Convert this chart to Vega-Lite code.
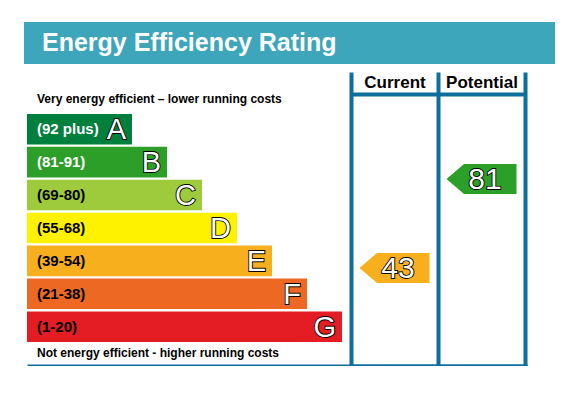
{
  "$schema": "https://vega.github.io/schema/vega-lite/v6.json",
  "padding": {"left": 24, "top": 22, "right": 0, "bottom": 0},
  "config": {
    "view": {"stroke": null},
    "font": "Liberation Sans"
  },
  "spacing": 8,
  "vconcat": [
    {
      "width": 531,
      "height": 42,
      "view": {"fill": "#3ea6ba", "stroke": null},
      "data": {"values": [{"title": "Energy Efficiency Rating"}]},
      "mark": {"type": "text", "align": "left", "baseline": "alphabetic", "dx": 18, "dy": 8, "fontSize": 25, "fontWeight": "bold", "color": "white"},
      "encoding": {
        "text": {"field": "title"},
        "x": {"datum": 0, "type": "quantitative", "scale": {"domain": [0, 1], "nice": false}, "axis": null}
      }
    },
    {
      "spacing": 0,
      "hconcat": [
        {
          "width": 327,
          "height": 294,
          "layer": [
            {
              "data": {"name": "bands", "values": [
                {"band": "A", "range": "(92 plus)", "rank": 1},
                {"band": "B", "range": "(81-91)", "rank": 2},
                {"band": "C", "range": "(69-80)", "rank": 3},
                {"band": "D", "range": "(55-68)", "rank": 4},
                {"band": "E", "range": "(39-54)", "rank": 5},
                {"band": "F", "range": "(21-38)", "rank": 6},
                {"band": "G", "range": "(1-20)", "rank": 7}
              ]},
              "layer": [
                {
                  "mark": {"type": "bar"},
                  "encoding": {
                    "y": {"field": "band", "type": "nominal", "scale": {"domain": ["A", "B", "C", "D", "E", "F", "G"], "paddingInner": 0.072, "paddingOuter": 1.083, "align": 0.636, "round": false}, "axis": null},
                    "x": {"field": "rank", "type": "quantitative", "scale": {"domain": [-2.0857, 7.2571], "nice": false, "zero": false}, "axis": {"orient": "bottom", "domain": true, "domainColor": "#0e6f9d", "domainWidth": 4, "domainDash": [0, 3, 1000], "labels": false, "ticks": false, "grid": false, "title": null}},
                    "x2": {"datum": -2},
                    "color": {"field": "band", "type": "nominal", "scale": {"domain": ["A", "B", "C", "D", "E", "F", "G"], "range": ["#007f3d", "#2c9f29", "#9dcb3c", "#fff200", "#f7af1d", "#ed6823", "#e31d23"]}, "legend": null}
                  }
                },
                {
                  "mark": {"type": "text", "align": "left", "baseline": "middle", "dx": 10, "fontSize": 15, "fontWeight": "bold"},
                  "encoding": {
                    "y": {"field": "band", "type": "nominal", "axis": null},
                    "x": {"datum": -2, "type": "quantitative", "axis": {"orient": "bottom", "domain": true, "domainColor": "#0e6f9d", "domainWidth": 4, "domainDash": [0, 3, 1000], "labels": false, "ticks": false, "grid": false, "title": null}},
                    "text": {"field": "range"},
                    "color": {"condition": {"test": "datum.rank <= 2", "value": "white"}, "value": "black"}
                  }
                },
                {
                  "mark": {"type": "text", "align": "right", "baseline": "middle", "dx": -6, "dy": 1, "fontSize": 29, "fill": "black", "stroke": "black", "strokeWidth": 1.8},
                  "encoding": {
                    "y": {"field": "band", "type": "nominal", "axis": null},
                    "x": {"field": "rank", "type": "quantitative", "axis": {"orient": "bottom", "domain": true, "domainColor": "#0e6f9d", "domainWidth": 4, "domainDash": [0, 3, 1000], "labels": false, "ticks": false, "grid": false, "title": null}},
                    "text": {"field": "band"}
                  }
                },
                {
                  "mark": {"type": "text", "align": "right", "baseline": "middle", "dx": -6, "dy": 1, "fontSize": 29, "fill": "white"},
                  "encoding": {
                    "y": {"field": "band", "type": "nominal", "axis": null},
                    "x": {"field": "rank", "type": "quantitative", "axis": {"orient": "bottom", "domain": true, "domainColor": "#0e6f9d", "domainWidth": 4, "domainDash": [0, 3, 1000], "labels": false, "ticks": false, "grid": false, "title": null}},
                    "text": {"field": "band"}
                  }
                }
              ]
            },
            {
              "data": {"values": [{"note": "Very energy efficient – lower running costs", "band": "A"}]},
              "mark": {"type": "text", "align": "left", "baseline": "alphabetic", "dx": 10, "dy": -10.5, "fontSize": 12, "fontWeight": "bold", "color": "black"},
              "encoding": {
                "y": {"field": "band", "type": "nominal", "bandPosition": 0, "axis": null},
                "x": {"datum": -2, "type": "quantitative", "axis": {"orient": "bottom", "domain": true, "domainColor": "#0e6f9d", "domainWidth": 4, "domainDash": [0, 3, 1000], "labels": false, "ticks": false, "grid": false, "title": null}},
                "text": {"field": "note"}
              }
            },
            {
              "data": {"values": [{"note": "Not energy efficient - higher running costs", "band": "G"}]},
              "mark": {"type": "text", "align": "left", "baseline": "alphabetic", "dx": 10, "dy": 14.5, "fontSize": 12, "fontWeight": "bold", "color": "black"},
              "encoding": {
                "y": {"field": "band", "type": "nominal", "bandPosition": 1, "axis": null},
                "x": {"datum": -2, "type": "quantitative", "axis": {"orient": "bottom", "domain": true, "domainColor": "#0e6f9d", "domainWidth": 4, "domainDash": [0, 3, 1000], "labels": false, "ticks": false, "grid": false, "title": null}},
                "text": {"field": "note"}
              }
            }
          ]
        },
        {
          "width": 174,
          "height": 294,
          "data": {"values": [
            {"column": "Current", "score": 43, "band": "E"},
            {"column": "Potential", "score": 81, "band": "B"}
          ]},
          "resolve": {"axis": {"x": "independent"}},
          "layer": [
            {
              "mark": {"type": "point", "shape": "M-1,0L-0.5,-0.43L1,-0.43L1,0.43L-0.5,0.43Z", "filled": true, "size": 4900, "opacity": 1, "strokeWidth": 0},
              "encoding": {
                "x": {"field": "column", "type": "nominal", "scale": {"type": "band", "domain": ["Current", "Potential"], "paddingInner": 0, "paddingOuter": 0}, "axis": {"orient": "top", "offset": -22, "domain": true, "domainColor": "#0e6f9d", "domainWidth": 4, "ticks": false, "labels": true, "labelFontSize": 17, "labelFontWeight": "bold", "labelColor": "black", "labelAngle": 0, "labelBaseline": "alphabetic", "labelPadding": 7, "grid": true, "gridColor": "#0e6f9d", "gridWidth": 4, "gridOpacity": 1, "tickBand": "extent", "title": null}},
                "y": {"field": "score", "type": "quantitative", "scale": {"domain": [1.16, 126.69], "nice": false, "zero": false}, "axis": null},
                "color": {"field": "band", "type": "nominal", "scale": {"domain": ["A", "B", "C", "D", "E", "F", "G"], "range": ["#007f3d", "#2c9f29", "#9dcb3c", "#fff200", "#f7af1d", "#ed6823", "#e31d23"]}, "legend": null}
              }
            },
            {
              "mark": {"type": "text", "baseline": "middle", "dx": 3.5, "dy": 1, "fontSize": 30, "fill": "black", "stroke": "black", "strokeWidth": 1.8},
              "encoding": {
                "x": {"field": "column", "type": "nominal", "axis": {"orient": "bottom", "domain": true, "domainColor": "#0e6f9d", "domainWidth": 4, "domainCap": "square", "ticks": false, "labels": false, "grid": false, "title": null}},
                "y": {"field": "score", "type": "quantitative", "axis": null},
                "text": {"field": "score"}
              }
            },
            {
              "mark": {"type": "text", "baseline": "middle", "dx": 3.5, "dy": 1, "fontSize": 30, "fill": "white"},
              "encoding": {
                "x": {"field": "column", "type": "nominal", "axis": {"orient": "bottom", "domain": true, "domainColor": "#0e6f9d", "domainWidth": 4, "domainCap": "square", "ticks": false, "labels": false, "grid": false, "title": null}},
                "y": {"field": "score", "type": "quantitative", "axis": null},
                "text": {"field": "score"}
              }
            }
          ]
        }
      ]
    }
  ]
}
